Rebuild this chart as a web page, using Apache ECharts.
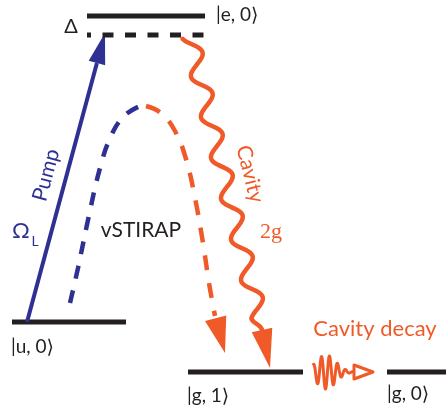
<!DOCTYPE html>
<html>
<head>
<meta charset="utf-8">
<script src="https://cdn.jsdelivr.net/npm/echarts@6/dist/echarts.min.js"></script>
<style>
html, body { margin: 0; padding: 0; background: #fff; }
#chart { width: 446px; height: 417px; }
</style>
</head>
<body>
<div id="chart"></div>
<script>
// Level scheme of vacuum-stimulated Raman transfer (vSTIRAP) in a cavity.
// Diagram space: x runs right, y runs down, over the whole canvas.

// Energy levels: label, horizontal extent and height
const levelLabels = ['|e, 0⟩', '|u, 0⟩', '|g, 1⟩', '|g, 0⟩'];
const levelStart = [87, 12, 188, 387];
const levelEnd = [205, 126, 303, 446];
const levelY = [16, 322, 372, 372];
const levelLabelX = [216, 11, 187, 387];
const levelLabelY = [15, 347, 396, 394];

// Virtual level detuned by Δ below |e, 0⟩
const virtualLevel = [[87, 35], [205, 35]];

// Pump laser: tail on |u, 0⟩, tip on the virtual level
const pumpTail = [27, 322];
const pumpTip = [105, 33];

// Raman path: blue half (pump side) and orange half (cavity side)
const arcPump = [[70, 303], [78, 268], [88, 220], [100, 168], [111, 136], [124, 116], [140, 106]];
const arcCavity = [[146, 106], [161, 113], [175, 131], [186, 159], [195, 198], [203, 243], [209, 283], [215, 316]];
const arcTip = [225, 353];

// Cavity coupling 2g: wavy arrow from the virtual level to |g, 1⟩
const cavityFrom = [190, 37];
const cavityTo = [262, 330];
const cavityTip = [270, 368];

// Photon leaving the cavity (|g, 1⟩ → |g, 0⟩)
const photonSpan = [313, 356];
const photonY = 372;
const photonTip = 373;

// Annotations
const notes = ['Δ', 'Pump', 'Ω', 'L', 'vSTIRAP', 'Cavity', '2g', 'Cavity decay'];
const noteX = [71, 46, 21, 35, 141, 250, 271, 375];
const noteY = [27, 175, 231, 241, 230, 174, 232, 329];

const BLACK = '#231f20';
const BLUE = '#2e3192';
const ORANGE = '#f05a28';
const SANS = 'Lato, "DejaVu Sans", sans-serif';
const SERIF = '"Liberation Serif", "DejaVu Serif", serif';

const noteStyle = [
  { font: '20px ' + SANS, fill: BLACK, rot: 0 },
  { font: '21px ' + SANS, fill: BLUE, rot: 75 },
  { font: '22px ' + SANS, fill: BLUE, rot: 0 },
  { font: '14px ' + SANS, fill: BLUE, rot: 0 },
  { font: '21px ' + SANS, fill: BLACK, rot: 0 },
  { font: '21px ' + SANS, fill: ORANGE, rot: -76 },
  { font: '22px ' + SERIF, fill: ORANGE, rot: 0 },
  { font: '22px ' + SANS, fill: ORANGE, rot: 0 }
];

function headPoints(tip, base, width) {
  const dx = tip[0] - base[0], dy = tip[1] - base[1];
  const len = Math.hypot(dx, dy);
  const nx = -dy / len * width / 2, ny = dx / len * width / 2;
  return [[tip[0], tip[1]], [base[0] + nx, base[1] + ny], [base[0] - nx, base[1] - ny]];
}
function backOff(tip, from, dist) {
  const dx = tip[0] - from[0], dy = tip[1] - from[1];
  const len = Math.hypot(dx, dy);
  return [tip[0] - dx / len * dist, tip[1] - dy / len * dist];
}

const chart = echarts.init(document.getElementById('chart'), null, { renderer: 'canvas' });

const option = {
  animation: false,
  backgroundColor: '#ffffff',
  grid: { left: 0, right: 0, top: 0, bottom: 0 },
  xAxis: { type: 'value', min: 0, max: 446, show: false },
  yAxis: { type: 'value', min: 0, max: 417, inverse: true, show: false },
  series: [
    // energy levels with their kets
    {
      type: 'custom',
      coordinateSystem: 'cartesian2d',
      data: levelLabels.map((t, i) => [levelStart[i], levelEnd[i], levelY[i], levelLabelX[i], levelLabelY[i], i]),
      renderItem: function (params, api) {
        const a = api.coord([api.value(0), api.value(2)]);
        const b = api.coord([api.value(1), api.value(2)]);
        const l = api.coord([api.value(3), api.value(4)]);
        return {
          type: 'group',
          children: [
            { type: 'line', shape: { x1: a[0], y1: a[1], x2: b[0], y2: b[1] },
              style: { stroke: BLACK, lineWidth: 5 } },
            { type: 'text', x: l[0], y: l[1],
              style: { text: levelLabels[api.value(5)], font: '19px ' + SANS, fill: BLACK,
                       align: 'left', verticalAlign: 'middle' } }
          ]
        };
      }
    },
    // virtual level
    {
      type: 'line',
      data: virtualLevel,
      showSymbol: false,
      lineStyle: { color: BLACK, width: 5, type: [11, 11.5], dashOffset: 7, cap: 'butt' }
    },
    // pump arrow
    {
      type: 'custom',
      coordinateSystem: 'cartesian2d',
      data: [[pumpTail[0], pumpTail[1], pumpTip[0], pumpTip[1]]],
      renderItem: function (params, api) {
        const t = api.coord([api.value(0), api.value(1)]);
        const h = api.coord([api.value(2), api.value(3)]);
        const base = backOff(h, t, 31);
        return {
          type: 'group',
          children: [
            { type: 'line', shape: { x1: t[0], y1: t[1], x2: base[0], y2: base[1] },
              style: { stroke: BLUE, lineWidth: 4 } },
            { type: 'polygon', shape: { points: headPoints(h, base, 17) }, style: { fill: BLUE } }
          ]
        };
      }
    },
    // Raman path, pump half
    {
      type: 'line',
      data: arcPump,
      smooth: 0.4,
      showSymbol: false,
      lineStyle: { color: BLUE, width: 4.5, type: [13, 12], cap: 'butt' }
    },
    // Raman path, cavity half
    {
      type: 'line',
      data: arcCavity,
      smooth: 0.4,
      showSymbol: false,
      lineStyle: { color: ORANGE, width: 4.5, type: [15, 13], cap: 'butt' }
    },
    // arrowhead of the Raman path
    {
      type: 'custom',
      coordinateSystem: 'cartesian2d',
      data: [[arcCavity[arcCavity.length - 1][0], arcCavity[arcCavity.length - 1][1], arcTip[0], arcTip[1]]],
      renderItem: function (params, api) {
        const t = api.coord([api.value(0), api.value(1)]);
        const h = api.coord([api.value(2), api.value(3)]);
        return { type: 'polygon', shape: { points: headPoints(h, backOff(h, t, 36), 22) }, style: { fill: ORANGE } };
      }
    },
    // cavity coupling: wavy arrow
    {
      type: 'custom',
      coordinateSystem: 'cartesian2d',
      data: [[cavityFrom[0], cavityFrom[1], cavityTo[0], cavityTo[1], cavityTip[0], cavityTip[1]]],
      renderItem: function (params, api) {
        const a = api.coord([api.value(0), api.value(1)]);
        const b = api.coord([api.value(2), api.value(3)]);
        const tip = api.coord([api.value(4), api.value(5)]);
        const dx = b[0] - a[0], dy = b[1] - a[1];
        const len = Math.hypot(dx, dy);
        const ux = dx / len, uy = dy / len;
        const px = uy, py = -ux;           // points to the right of travel
        const wave = 42, amp = 8.5, phase = -1.12;
        const pts = [];
        for (let i = 0; i <= 400; i++) {
          const s = len * i / 400;
          const damp = Math.min(1, (len - s) / 14);
          const o = amp * Math.sin(2 * Math.PI * s / wave + phase) * damp;
          pts.push([a[0] + ux * s + px * o, a[1] + uy * s + py * o]);
        }
        return {
          type: 'group',
          children: [
            { type: 'polyline', shape: { points: pts },
              style: { stroke: ORANGE, lineWidth: 4.5, fill: null, lineJoin: 'round', lineCap: 'round' } },
            { type: 'polygon', shape: { points: headPoints(tip, b, 21) }, style: { fill: ORANGE } }
          ]
        };
      }
    },
    // photon wave packet leaving the cavity
    {
      type: 'custom',
      coordinateSystem: 'cartesian2d',
      data: [[photonSpan[0], photonSpan[1], photonY, photonTip]],
      renderItem: function (params, api) {
        const x0 = api.value(0), x1 = api.value(1), yc = api.value(2), xt = api.value(3);
        const pts = [];
        for (let i = 0; i <= 200; i++) {
          const x = x0 + (x1 - x0) * i / 200;
          const env = 17 * Math.exp(-Math.pow((x - 326) / 14, 2));
          const y = yc - env * Math.sin(2 * Math.PI * (x - x0) / 8 + 1.2);
          pts.push(api.coord([x, y]));
        }
        const tri = [api.coord([x1 - 2, yc - 7]), api.coord([xt, yc]), api.coord([x1 - 2, yc + 7])];
        return {
          type: 'group',
          children: [
            { type: 'polyline', shape: { points: pts },
              style: { stroke: ORANGE, lineWidth: 3, fill: null, lineJoin: 'round' } },
            { type: 'polygon', shape: { points: tri },
              style: { stroke: ORANGE, lineWidth: 3, fill: '#ffffff', lineJoin: 'round' } }
          ]
        };
      }
    },
    // annotations
    {
      type: 'custom',
      coordinateSystem: 'cartesian2d',
      data: notes.map((t, i) => [noteX[i], noteY[i], i]),
      renderItem: function (params, api) {
        const p = api.coord([api.value(0), api.value(1)]);
        const k = api.value(2);
        const st = noteStyle[k];
        return {
          type: 'text', x: p[0], y: p[1], rotation: st.rot * Math.PI / 180,
          style: { text: notes[k], font: st.font, fill: st.fill, align: 'center', verticalAlign: 'middle' }
        };
      }
    }
  ]
};

chart.setOption(option);
</script>
</body>
</html>
